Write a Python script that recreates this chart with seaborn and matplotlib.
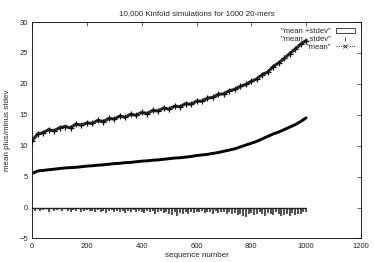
import matplotlib
matplotlib.use('Agg')
import matplotlib.pyplot as plt
import seaborn as sns
import pandas as pd
from matplotlib.lines import Line2D
from matplotlib.patches import Rectangle

# sequence numbers (every 20th sequence) for the two upper curves
seq = list(range(0, 1001, 20))

mean_plus_stdev = [10.8, 11.9, 12.1, 12.6, 12.4, 12.9, 13.1, 12.9, 13.5, 13.3,
                   13.7, 13.6, 14.1, 13.9, 14.4, 14.3, 14.8, 14.6, 15.1, 14.9,
                   15.4, 15.2, 15.7, 15.6, 16.1, 15.9, 16.4, 16.3, 16.8, 16.7,
                   17.2, 17.2, 17.7, 17.8, 18.3, 18.4, 18.9, 19.1, 19.6, 19.9,
                   20.4, 20.8, 21.5, 21.9, 22.8, 23.4, 24.1, 24.9, 25.6, 26.4,
                   27.0]

mean = [5.5, 5.9, 6.0, 6.1, 6.2, 6.3, 6.4, 6.45, 6.5, 6.6,
        6.7, 6.75, 6.85, 6.9, 7.0, 7.1, 7.15, 7.25, 7.3, 7.4,
        7.5, 7.55, 7.65, 7.7, 7.8, 7.9, 8.0, 8.05, 8.15, 8.25,
        8.4, 8.5, 8.6, 8.75, 8.9, 9.1, 9.3, 9.5, 9.8, 10.1,
        10.4, 10.7, 11.1, 11.5, 11.9, 12.2, 12.6, 13.0, 13.4, 13.9,
        14.5]

# lower series drawn as impulses, every 10th sequence
seq_low = list(range(0, 1001, 10))
mean_minus_stdev = [-0.3, -0.5, -0.2, -0.6, -0.4, -0.3, -0.7, -0.2, -0.5, -0.4, -0.3,
                    -0.6, -0.3, -0.5, -0.8, -0.4, -0.6, -0.3, -0.7, -0.5, -0.4,
                    -0.6, -0.5, -0.8, -0.4, -0.7, -0.5, -0.9, -0.6, -0.4, -0.7,
                    -0.5, -0.8, -0.6, -0.9, -0.5, -0.7, -0.4, -0.8, -0.6, -0.7,
                    -0.9, -0.6, -0.8, -0.5, -1.0, -0.7, -0.6, -0.9, -0.7, -1.1,
                    -1.2, -0.8, -1.3, -0.9, -1.1, -0.7, -1.0, -0.8, -0.9, -0.7,
                    -0.8, -0.6, -0.9, -0.7, -0.8, -1.0, -0.6, -0.9, -0.7, -0.8,
                    -1.0, -0.8, -1.1, -0.9, -1.2, -1.0, -1.3, -1.5, -1.1, -0.9,
                    -1.2, -1.0, -0.8, -1.1, -1.3, -0.9, -1.0, -1.2, -0.8, -1.1,
                    -1.4, -1.2, -1.0, -1.3, -0.9, -1.2, -1.1, -1.0, -0.8, -0.7]

legend_labels = ['"mean +stdev"', '"mean - stdev"', '"mean"']
x_ticks = [0, 200, 400, 600, 800, 1000, 1200]
y_ticks = [-5, 0, 5, 10, 15, 20, 25, 30]

sns.set_style('white')
plt.rcParams['font.family'] = ['Liberation Sans', 'DejaVu Sans']
plt.rcParams['font.size'] = 5.5

df = pd.DataFrame({'seq': seq, 'upper': mean_plus_stdev, 'mean': mean})
low = pd.DataFrame({'seq': seq_low, 'lower': mean_minus_stdev})

fig, ax = plt.subplots(figsize=(3.74, 2.62), dpi=100)
fig.subplots_adjust(left=0.086, right=0.965, top=0.916, bottom=0.09)

sns.lineplot(data=df, x='seq', y='upper', ax=ax, color='#2a2a2a', lw=2.2,
             marker='+', markersize=4, mew=0.9, mec='#111111')
sns.lineplot(data=df, x='seq', y='mean', ax=ax, color='black', lw=2.1)
ax.vlines(low['seq'], 0, low['lower'], color='#222222', lw=1.1)
ax.hlines(0, low['seq'].min(), low['seq'].max(), color='#222222', lw=1.0)

ax.set_xlim(0, 1200)
ax.set_ylim(-5, 30)
ax.set_xticks(x_ticks)
ax.set_yticks(y_ticks)
ax.tick_params(direction='in', length=3, width=0.5, top=True, right=True,
               labelsize=5.5, pad=3)
for s in ax.spines.values():
    s.set_linewidth(0.6)
    s.set_color('black')

ax.set_title('10,000 Kinfold simulations for 1000 20-mers', fontsize=5.8, pad=5)
ax.set_xlabel('sequence number', fontsize=5.8, labelpad=2)
ax.set_ylabel('mean plus/minus stdev', fontsize=5.8, labelpad=6)

handles = [Rectangle((0, 0), 1, 1, facecolor='white', edgecolor='black', lw=0.5),
           Line2D([], [], ls='none', marker='|', color='black', markersize=3, mew=0.5),
           Line2D([], [], ls=':', marker='x', color='black', lw=0.6,
                  markersize=2.5, mew=0.5)]
ax.legend(handles, legend_labels, loc='upper right', frameon=False,
          markerfirst=False, fontsize=5.5, handlelength=2.5, handleheight=0.6,
          labelspacing=0.1, borderaxespad=0.4, handletextpad=0.6)

fig.savefig('out.png', dpi=100)
